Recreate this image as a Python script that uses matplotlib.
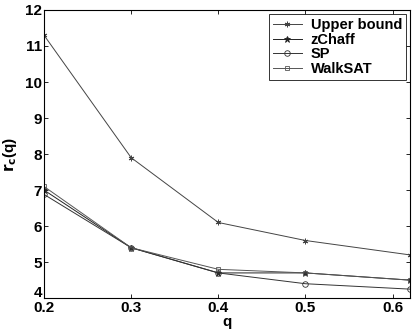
import matplotlib

matplotlib.use("Agg")
import matplotlib.pyplot as plt
from matplotlib.transforms import ScaledTranslation

q = [0.2, 0.3, 0.4, 0.5, 0.62]
upper_bound = [11.3, 7.9, 6.1, 5.6, 5.2]
zchaff = [7.0, 5.4, 4.7, 4.7, 4.5]
sp = [6.88, 5.4, 4.7, 4.4, 4.25]
walksat = [7.1, 5.4, 4.8, 4.7, 4.5]

plt.rcParams.update({
    "font.family": ["Liberation Sans", "DejaVu Sans"],
    "font.weight": "bold",
    "font.size": 10,
    "xtick.direction": "in",
    "ytick.direction": "in",
    "xtick.top": True,
    "ytick.right": True,
})

fig = plt.figure(figsize=(4.15, 3.32), dpi=100)
ax = fig.add_axes([0.106, 0.102, 0.882, 0.868])

asterisk = (6, 2, 0)
ax.plot(q, upper_bound, color="#444444", lw=0.7, marker=asterisk, ms=4, mew=0.7, label="Upper bound")
ax.plot(q, zchaff, color="#222222", lw=0.7, marker="*", ms=5, mew=0.6, label="zChaff")
ax.plot(q, sp, color="#333333", lw=0.7, marker="o", ms=4, mfc="none", mew=0.6, label="SP")
ax.plot(q, walksat, color="#555555", lw=0.7, marker="s", ms=3.5, mfc="none", mew=0.6, label="WalkSAT")

ax.set_xlim(0.2, 0.62)
ax.set_ylim(4, 12)
ax.set_xticks([0.2, 0.3, 0.4, 0.5, 0.6])
ax.set_yticks(range(4, 13))
ax.tick_params(axis="x", length=3, width=0.6, pad=2, labelsize=11)
ax.tick_params(axis="y", length=3, width=0.6, pad=1.5, labelsize=11)
for s in ax.spines.values():
    s.set_linewidth(0.8)

# nudge the bottom y label up so it does not collide with "0.2"
fig.canvas.draw()
ylabels = ax.get_yticklabels()
ylabels[0].set_transform(ylabels[0].get_transform() + ScaledTranslation(0, 4.5 / 72, fig.dpi_scale_trans))

ax.set_xlabel("q", fontsize=11, weight="bold", labelpad=0)
ax.set_ylabel(r"$\mathbf{r_c}$(q)", fontsize=11, weight="bold", labelpad=4)

leg = ax.legend(loc="upper right", fontsize=10.5, frameon=True, fancybox=False,
                edgecolor="black", handlelength=2.0, borderaxespad=0.3,
                labelspacing=0.05, borderpad=0.25, handletextpad=0.6)
leg.get_frame().set_linewidth(0.7)

fig.savefig("out.png", dpi=100)
